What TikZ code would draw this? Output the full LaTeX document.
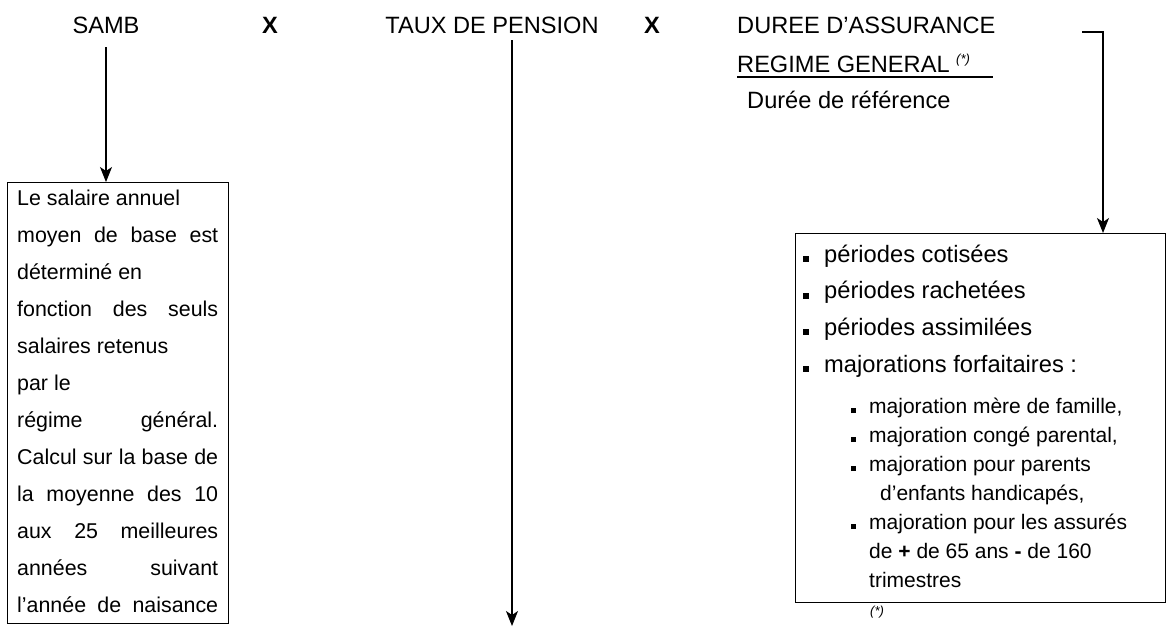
\documentclass[tikz,border=0pt]{standalone}
\usepackage{fontspec}
\setmainfont{Liberation Sans}
\usetikzlibrary{arrows.meta}
\newcommand\mybul{\makebox[21pt][l]{\rule{6pt}{6pt}}}
\newcommand\mysub{\makebox[18pt][l]{\rule{5pt}{5pt}}}
\begin{document}
\begin{tikzpicture}[x=1pt,y=-1pt,
  title/.style={anchor=base, inner sep=0pt, font=\fontsize{23.6}{28}\selectfont},
  boldx/.style={title, font=\fontsize{23.6}{28}\selectfont\bfseries},
  arr/.style={-{Stealth[length=15pt,width=12pt,inset=4pt]}, line width=1.1pt},
  boxed/.style={draw, line width=1.1pt, inner sep=0pt, anchor=north west},
  txt/.style={anchor=base west, inner sep=0pt}]
\useasboundingbox (0,0) rectangle (1169,627);
% titles
\node[title] (samb) at (106,33) {SAMB};
\node[boldx] (x1) at (270,33) {X};
\node[title] (taux) at (492,33) {TAUX DE PENSION};
\node[boldx] (x2) at (652,33) {X};
\node[title,anchor=base west] (duree) at (737,33) {DUREE D’ASSURANCE};
\node[title,anchor=base west] (regime) at (737,72) {REGIME GENERAL~\raisebox{9pt}{\fontsize{13}{13}\selectfont\itshape(*)}};
\draw[line width=1.4pt] ([yshift=-5pt]regime.base west) -- ++(256,0);
\node[title,anchor=base west] (ref) at (747,108) {Durée de référence};
% left box
\node[boxed, minimum width=221pt, minimum height=441pt] (sambbox) at (7,182) {};
\node[txt] (sambtxt) at (17,205) {\parbox[t]{201pt}{\fontsize{21.4}{37}\selectfont
\makebox[201pt][l]{Le salaire annuel}\\
\makebox[201pt][s]{moyen de base est}\\
\makebox[201pt][l]{déterminé en}\\
\makebox[201pt][s]{fonction des seuls}\\
\makebox[201pt][l]{salaires retenus}\\
\makebox[201pt][l]{par le}\\
\makebox[201pt][s]{régime général.}\\
\makebox[201pt][s]{Calcul sur la base de}\\
\makebox[201pt][s]{la moyenne des 10}\\
\makebox[201pt][s]{aux 25 meilleures}\\
\makebox[201pt][s]{années suivant}\\
\makebox[201pt][s]{l’année de naisance}}};
% right box
\node[boxed, minimum width=370pt, minimum height=369pt] (durbox) at (795,233) {};
\node[txt] (mainlist) at (803,262) {\parbox[t]{350pt}{\fontsize{23.7}{36.7}\selectfont
\mybul périodes cotisées\\
\mybul périodes rachetées\\
\mybul périodes assimilées\\
\mybul majorations forfaitaires :}};
\node[txt] (sublist) at (851,413) {\parbox[t]{300pt}{\fontsize{21}{29}\selectfont
\mysub majoration mère de famille,\\
\mysub majoration congé parental,\\
\mysub majoration pour parents\\
\hspace*{29pt}d’enfants handicapés,\\
\mysub majoration pour les assurés\\
\hspace*{18pt}de \textbf{+} de 65 ans \textbf{-} de 160\\
\hspace*{18pt}trimestres}};
\node[anchor=north west, inner sep=0pt, font=\fontsize{13}{13}\selectfont\itshape] (fn) at (870,606) {(*)};
% connectors
\draw[arr] ([yshift=-14pt]samb.base) -- (samb.base |- sambbox.north);
\coordinate (tauxtop) at (512,40);
\coordinate (tauxend) at (512,626);
\draw[arr] (tauxtop) -- (tauxend);
\coordinate (durstart) at (1082,32);
\draw[arr] (durstart) -| ([xshift=308pt]durbox.north west);
\end{tikzpicture}
\end{document}
